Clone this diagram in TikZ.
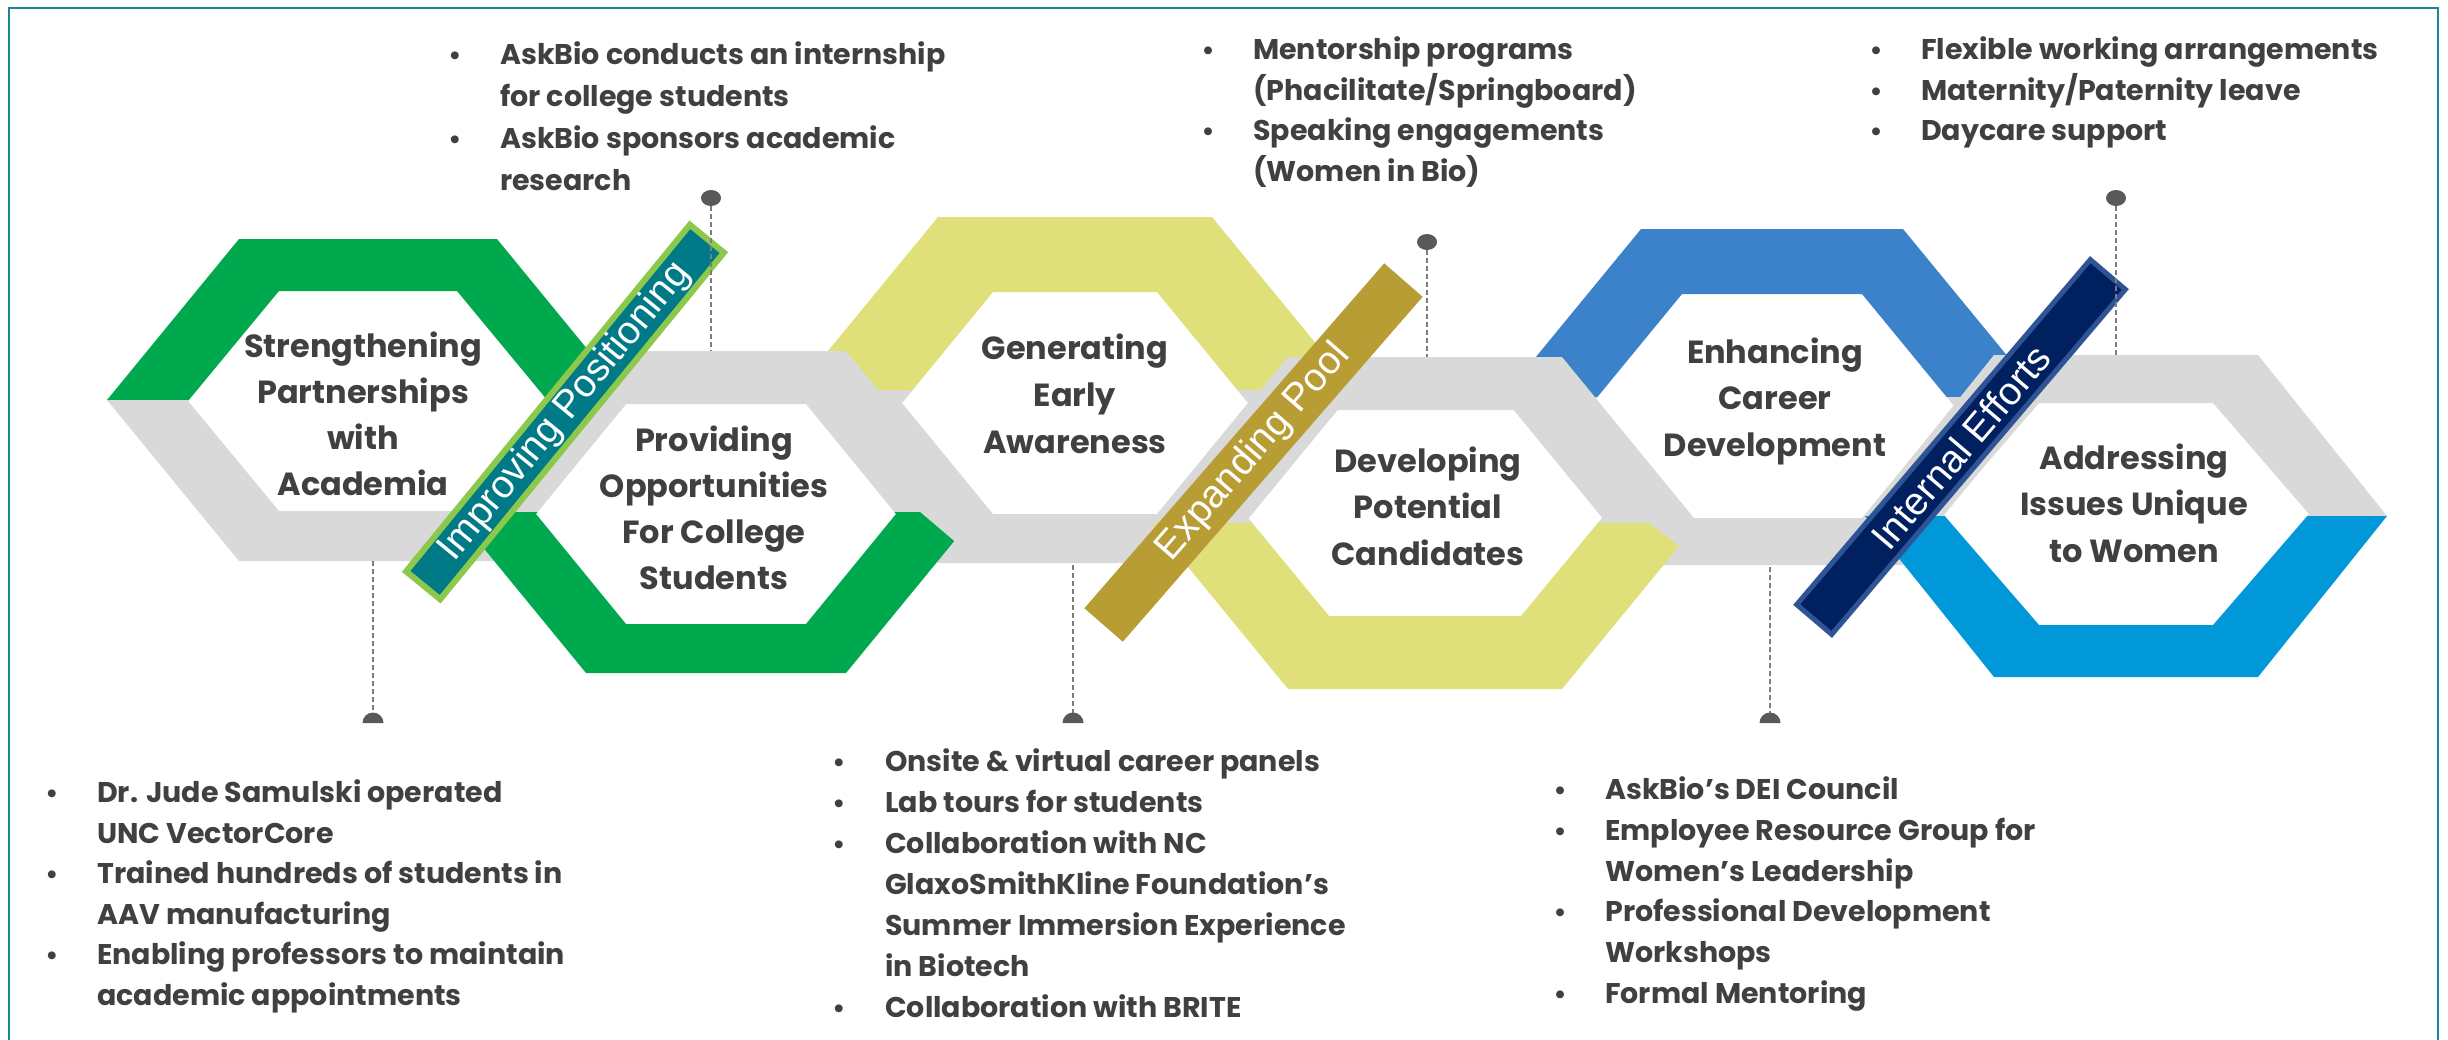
\documentclass[tikz,border=0pt]{standalone}
\usepackage{fontspec}
\setmainfont{Poppins}
\newfontfamily\bannerfont{Liberation Sans}
\definecolor{cgreen}{RGB}{0,168,78}
\definecolor{cgray}{RGB}{217,217,217}
\definecolor{cyellow}{RGB}{224,224,122}
\definecolor{cblue}{RGB}{59,130,202}
\definecolor{clblue}{RGB}{0,152,216}
\definecolor{bteal}{RGB}{0,122,135}
\definecolor{blgreen}{RGB}{140,200,75}
\definecolor{bgold}{RGB}{184,157,52}
\definecolor{bnavy}{RGB}{0,32,96}
\definecolor{bnavyedge}{RGB}{47,84,150}
\definecolor{txt}{RGB}{64,64,64}
\definecolor{dashc}{RGB}{125,125,125}
\definecolor{dotc}{RGB}{89,89,89}
\definecolor{framec}{RGB}{25,135,145}
% cx cy W H a cyi w h ai
\newcommand{\hexring}[9]{(#1-#3,#2) -- (#1-#5,#2-#4) -- (#1+#5,#2-#4) -- (#1+#3,#2) -- (#1+#5,#2+#4) -- (#1-#5,#2+#4) -- cycle (#1-#7,#6) -- (#1-#9,#6-#8) -- (#1+#9,#6-#8) -- (#1+#7,#6) -- (#1+#9,#6+#8) -- (#1-#9,#6+#8) -- cycle}
\newcommand{\hexA}{\hexring{368}{400}{261}{161}{129}{401}{180}{110}{89}}
\newcommand{\hexB}{\hexring{716}{512}{262}{161}{130}{514}{180}{110}{90}}
\newcommand{\hexC}{\hexring{1075}{390}{279}{173}{137}{403}{173}{111}{82}}
\newcommand{\hexD}{\hexring{1425}{523}{273}{166}{137}{513}{181}{103}{96}}
\newcommand{\hexE}{\hexring{1772}{397}{269}{168}{131}{406}{182}{112}{90}}
\newcommand{\hexF}{\hexring{2126}{516}{261}{161}{132}{514}{183}{111}{87}}
\tikzset{
  lab/.style={font=\bfseries\fontsize{32}{38}\selectfont, text=txt, anchor=base, inner sep=0pt},
  itm/.style={font=\bfseries\fontsize{28.5}{34}\selectfont, text=txt, anchor=base west, inner sep=0pt},
  bul/.style={font=\bfseries\fontsize{26}{34}\selectfont, text=txt, anchor=base, inner sep=0pt},
  banner/.style={font=\bannerfont\fontsize{39}{44}\selectfont, text=white, inner sep=0pt, anchor=center},
  conn/.style={dashc, line width=2pt, dash pattern=on 5pt off 3pt},
  dotstyle/.style={fill=dotc},
}
\begin{document}
\begin{tikzpicture}[x=1pt,y=-1pt]
\useasboundingbox (0,0) rectangle (2448,1039);
\fill[white] (0,0) rectangle (2448,1039);
% ---- colored upper halves (under the gray ribbon)
\begin{scope}\clip (0,0) rectangle (2448,400);\fill[cgreen,even odd rule] \hexA;\end{scope}
\begin{scope}\clip (0,0) rectangle (2448,390);\fill[cyellow,even odd rule] \hexC;\end{scope}
\begin{scope}\clip (0,0) rectangle (2448,397);\fill[cblue,even odd rule] \hexE;\end{scope}
% ---- gray ribbon
\begin{scope}\clip (0,400) rectangle (2448,1039);\fill[cgray,even odd rule] \hexA;\end{scope}
\begin{scope}\clip (0,0) rectangle (2448,512);\fill[cgray,even odd rule] \hexB;\end{scope}
\begin{scope}\clip (0,390) rectangle (2448,1039);\fill[cgray,even odd rule] \hexC;\end{scope}
\begin{scope}\clip (0,0) rectangle (2448,523);\fill[cgray,even odd rule] \hexD;\end{scope}
\begin{scope}\clip (0,397) rectangle (2448,1039);\fill[cgray,even odd rule] \hexE;\end{scope}
\begin{scope}\clip (0,0) rectangle (2448,516);\fill[cgray,even odd rule] \hexF;\end{scope}
% ---- colored lower halves (over the gray ribbon)
\begin{scope}\clip (0,512) -- (920,512) -- (1155,712) -- (1155,1039) -- (0,1039) -- cycle;\fill[cgreen,even odd rule] \hexB;\end{scope}
\begin{scope}\clip (0,523) -- (1649,523) -- (1918,730) -- (1918,1039) -- (0,1039) -- cycle;\fill[cyellow,even odd rule] \hexD;\end{scope}
\begin{scope}\clip (0,516) rectangle (2448,1039);\fill[clblue,even odd rule] \hexF;\end{scope}
% ---- banners
\node[banner, rotate=50.7, fill=bteal, draw=blgreen, line width=6pt, minimum width=448pt, minimum height=44pt] (b1) at (565,412) {Improving Positioning};
\node[banner, rotate=49, fill=bgold, minimum width=457pt, minimum height=51pt] (b2) at (1253.5,452.5) {Expanding Pool};
\node[banner, rotate=49.6, fill=bnavy, draw=bnavyedge, line width=5pt, minimum width=453pt, minimum height=46pt] (b3) at (1961,447) {Internal Efforts};
% ---- hexagon labels
\foreach \t [count=\i from 0] in {Strengthening,Partnerships,with,Academia}
  \node[lab] (la\i) at (363,{357+46*\i}) {\t};
\foreach \t [count=\i from 0] in {Providing,Opportunities,For College,Students}
  \node[lab] (lb\i) at (714,{451+46.3*\i}) {\t};
\foreach \t [count=\i from 0] in {Generating,Early,Awareness}
  \node[lab] (lc\i) at (1075,{359+47*\i}) {\t};
\foreach \t [count=\i from 0] in {Developing,Potential,Candidates}
  \node[lab] (ld\i) at (1428,{472+46.5*\i}) {\t};
\foreach \t [count=\i from 0] in {Enhancing,Career,Development}
  \node[lab] (le\i) at (1775,{363+46.5*\i}) {\t};
\foreach \t [count=\i from 0] in {Addressing,Issues Unique,to Women}
  \node[lab] (lf\i) at (2134,{469+46.5*\i}) {\t};
% ---- connectors
\coordinate (ta) at (711,198); \coordinate (tae) at (711,351);
\coordinate (tb) at (1427,242); \coordinate (tbe) at (1427,357);
\coordinate (tc) at (2116,198); \coordinate (tce) at (2116,355);
\coordinate (ua) at (373,561); \coordinate (uae) at (373,723);
\coordinate (ub) at (1073,565); \coordinate (ube) at (1073,723);
\coordinate (uc) at (1770,567); \coordinate (uce) at (1770,723);
\foreach \p in {ta,tb,tc}{
  \draw[conn] (\p) -- (\p e);
  \fill[dotstyle] (\p) ellipse [x radius=10pt, y radius=8pt];
}
\foreach \p in {ua,ub,uc}{
  \draw[conn] (\p) -- (\p e);
  \fill[dotstyle] (\p e) ++(-10.5pt,0pt) arc[start angle=180, end angle=0, radius=10.5pt] -- cycle;
}
% ---- top-left list
\node[bul] (p1b) at (455,64) {•};
\node[itm] (p1) at (500,64) {AskBio conducts an internship};
\node[itm] (p2) at (500,106) {for college students};
\node[bul] (p3b) at (455,148) {•};
\node[itm] (p3) at (500,148) {AskBio sponsors academic};
\node[itm] (p4) at (500,190) {research};
% ---- top-middle list
\node[bul] (q1b) at (1208,59) {•};
\node[itm] (q1) at (1253,59) {Mentorship programs};
\node[itm] (q2) at (1253,100) {(Phacilitate/Springboard)};
\node[bul] (q3b) at (1208,140) {•};
\node[itm] (q3) at (1253,140) {Speaking engagements};
\node[itm] (q4) at (1253,181) {(Women in Bio)};
% ---- top-right list
\node[bul] (r1b) at (1876,59) {•};
\node[itm] (r1) at (1921,59) {Flexible working arrangements};
\node[bul] (r2b) at (1876,100) {•};
\node[itm] (r2) at (1921,100) {Maternity/Paternity leave};
\node[bul] (r3b) at (1876,140) {•};
\node[itm] (r3) at (1921,140) {Daycare support};
% ---- bottom-left list
\node[bul] (s1b) at (52,802) {•};
\node[itm] (s1) at (97,802) {Dr. Jude Samulski operated};
\node[itm] (s2) at (97,843) {UNC VectorCore};
\node[bul] (s3b) at (52,883) {•};
\node[itm] (s3) at (97,883) {Trained hundreds of students in};
\node[itm] (s4) at (97,924) {AAV manufacturing};
\node[bul] (s5b) at (52,964) {•};
\node[itm] (s5) at (97,964) {Enabling professors to maintain};
\node[itm] (s6) at (97,1005) {academic appointments};
% ---- bottom-middle list
\node[bul] (m1b) at (839,771) {•};
\node[itm] (m1) at (885,771) {Onsite \& virtual career panels};
\node[bul] (m2b) at (839,812) {•};
\node[itm] (m2) at (885,812) {Lab tours for students};
\node[bul] (m3b) at (839,853) {•};
\node[itm] (m3) at (885,853) {Collaboration with NC};
\node[itm] (m4) at (885,894) {GlaxoSmithKline Foundation’s};
\node[itm] (m5) at (885,935) {Summer Immersion Experience};
\node[itm] (m6) at (885,976) {in Biotech};
\node[bul] (m7b) at (839,1017) {•};
\node[itm] (m7) at (885,1017) {Collaboration with BRITE};
% ---- bottom-right list
\node[bul] (n1b) at (1560,799) {•};
\node[itm] (n1) at (1605,799) {AskBio’s DEI Council};
\node[bul] (n2b) at (1560,840) {•};
\node[itm] (n2) at (1605,840) {Employee Resource Group for};
\node[itm] (n3) at (1605,881) {Women’s Leadership};
\node[bul] (n4b) at (1560,921) {•};
\node[itm] (n4) at (1605,921) {Professional Development};
\node[itm] (n5) at (1605,962) {Workshops};
\node[bul] (n6b) at (1560,1003) {•};
\node[itm] (n6) at (1605,1003) {Formal Mentoring};
% ---- frame
\draw[framec, line width=2.5pt] (9,1050) -- (9,8) -- (2438,8) -- (2438,1050);
\end{tikzpicture}
\end{document}
